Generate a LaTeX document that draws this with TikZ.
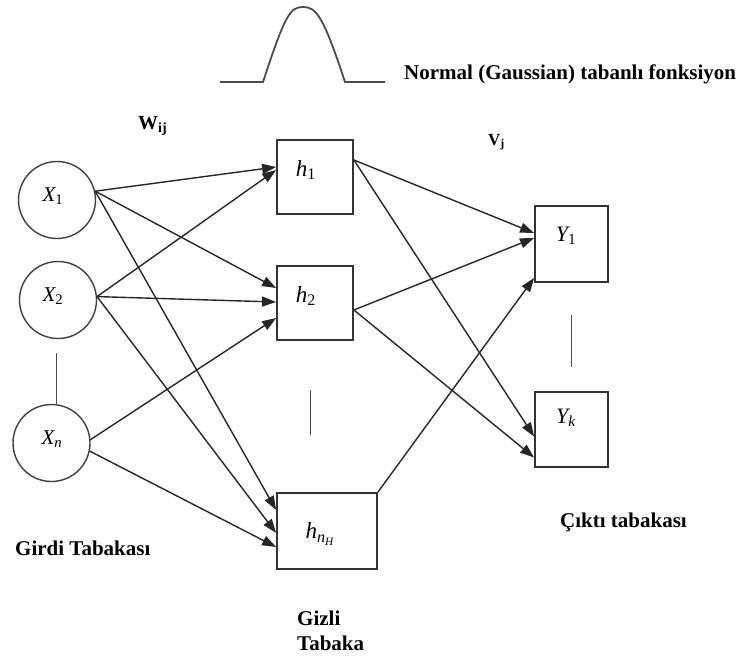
\documentclass[tikz,border=0pt]{standalone}
\usepackage{fontspec}
\setmainfont{Liberation Serif}
\usetikzlibrary{arrows.meta,calc}
\begin{document}
\begin{tikzpicture}[x=1pt,y=-1pt,
  conn/.style={draw=black!85, line width=1.4pt},
  arr/.style={conn,-{Triangle[length=14pt,width=10pt]}},
  neuron/.style={circle, draw=black!75, line width=1.4pt, minimum size=77pt, inner sep=0pt},
  unit/.style={rectangle, draw=black!80, line width=1.8pt, inner sep=0pt},
  lab/.style={font=\fontsize{21}{24}\selectfont\bfseries, inner sep=0pt, anchor=west},
  sym/.style={font=\fontsize{21}{24}\selectfont\itshape, inner sep=0pt},
  sep/.style={draw=black!70, line width=1pt}]
\path[use as bounding box] (0,0) rectangle (746,656);

% Gaussian basis function
\draw[black!70, line width=1.8pt] (220,82) -- (263,82) .. controls (285,15) and (290,7) .. (303,7)
  .. controls (316,7) and (323,15) .. (345,82) -- (385,82);
\node[lab] (title) at (404,74) {Normal (Gaussian) tabanlı fonksiyon};

% weight labels
\node[lab, font=\fontsize{20}{22}\selectfont\bfseries] (wij) at (138,126) {W\textsubscript{ij}};
\node[lab, font=\fontsize{17}{20}\selectfont\bfseries] (vj) at (488,142) {V\textsubscript{j}};

% input layer
\node[neuron] (X1) at (57,200) {};
\node[neuron] (X2) at (58,300) {};
\node[neuron] (Xn) at (51.5,443) {};
\node[sym] (X1t) at (53,196) {X\textsubscript{\upshape 1}};
\node[sym] (X2t) at (53,296) {X\textsubscript{\upshape 2}};
\node[sym] (Xnt) at (52,439) {X\textsubscript{n}};

% hidden layer
\node[unit, minimum width=76pt, minimum height=74pt] (h1) at (315,177) {};
\node[unit, minimum width=76pt, minimum height=74pt] (h2) at (315,303) {};
\node[unit, minimum width=100pt, minimum height=76pt] (hn) at (327,531) {};
\node[sym, font=\fontsize{23}{26}\selectfont\itshape] (h1t) at (306,170) {h\textsubscript{\upshape 1}};
\node[sym, font=\fontsize{23}{26}\selectfont\itshape] (h2t) at (306,296) {h\textsubscript{\upshape 2}};
\node[sym, font=\fontsize{23}{26}\selectfont\itshape] (hnt) at (320,534) {h\textsubscript{n\textsubscript{H}}};

% output layer
\node[unit, minimum width=73pt, minimum height=76pt] (Y1) at (571.5,244) {};
\node[unit, minimum width=73pt, minimum height=75pt] (Yk) at (571.5,429.5) {};
\node[sym, font=\fontsize{22}{26}\selectfont\itshape] (Y1t) at (566,236) {Y\textsubscript{\upshape 1}};
\node[sym, font=\fontsize{22}{26}\selectfont\itshape] (Ykt) at (566,418) {Y\textsubscript{k}};

% separators (ellipsis bars)
\coordinate (sa1) at (56,353); \coordinate (sa2) at (56,405);
\coordinate (sb1) at (310,390); \coordinate (sb2) at (310,435);
\coordinate (sc1) at (571,315); \coordinate (sc2) at (571,367);
\draw[sep] (sa1) -- (sa2);
\draw[sep] (sb1) -- (sb2);
\draw[sep] (sc1) -- (sc2);

% input -> hidden
\draw[arr] (X1.13) -- ($(h1.west)+(0,-10)$);
\draw[arr] (X1.13) -- ($(h2.west)+(0,-15)$);
\draw[arr] (X1.13) -- ($(hn.west)+(0,-21)$);
\draw[arr] (X2.5) -- ($(h1.west)+(0,-7)$);
\draw[arr] (X2.5) -- ($(h2.west)+(0,-1)$);
\draw[arr] (X2.5) -- ($(hn.west)+(0,2)$);
\draw[arr] (Xn.5) -- ($(h2.west)+(0,15)$);
\draw[arr] (Xn.-12) -- ($(hn.west)+(0,16)$);

% hidden -> output
\draw[arr] ($(h1.east)+(0,-17)$) -- ($(Y1.west)+(0,-11)$);
\draw[arr] ($(h1.east)+(0,-17)$) -- ($(Yk.west)+(0,7)$);
\draw[arr] ($(h2.east)+(0,7)$) -- ($(Y1.west)+(0,-6)$);
\draw[arr] ($(h2.east)+(0,7)$) -- ($(Yk.west)+(0,28)$);
\draw[arr] (hn.north east) -- ($(Y1.south west)+(0,-5)$);

% layer names
\node[lab] (girdi) at (15,548) {Girdi Tabakası};
\node[lab] (gizli1) at (297,618) {Gizli};
\node[lab] (gizli2) at (297,643) {Tabaka};
\node[lab] (cikti) at (560,522) {Çıktı tabakası};
\end{tikzpicture}
\end{document}
